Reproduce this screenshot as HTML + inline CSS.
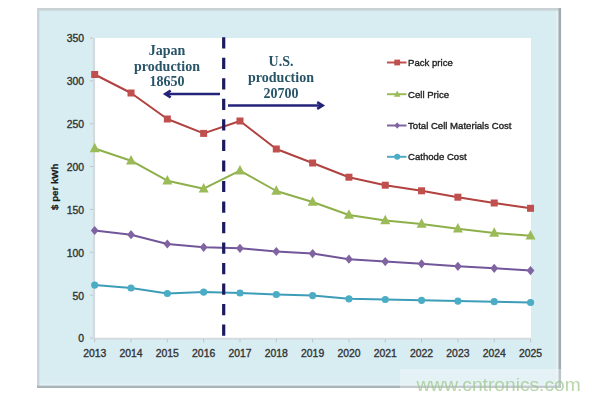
<!DOCTYPE html>
<html><head><meta charset="utf-8"><style>
html,body{margin:0;padding:0;background:#fff;width:600px;height:400px;overflow:hidden}
svg{display:block;filter:blur(0.35px)}
.ax{font-family:"Liberation Sans",sans-serif;font-size:10.4px;fill:#333;stroke:#333;stroke-width:0.35px}
.yt{font-family:"Liberation Sans",sans-serif;font-size:9.7px;font-weight:bold;fill:#1a1a1a;stroke:#1a1a1a;stroke-width:0.25px}
.an{font-family:"Liberation Serif",serif;font-size:14px;font-weight:bold;fill:#285468}
.lg{font-family:"Liberation Sans",sans-serif;font-size:9.6px;fill:#222;stroke:#222;stroke-width:0.35px}
.wm{font-family:"Liberation Sans",sans-serif;font-size:19.2px;fill:#9DC58B;fill-opacity:0.72}
</style></head><body>
<svg width="600" height="400" viewBox="0 0 600 400">
<rect x="37" y="8" width="524" height="380" fill="#D8EDF1"/>
<rect x="37" y="383.7" width="522" height="2" fill="#E3F1F5"/>
<rect x="556" y="9" width="2.5" height="377" fill="#E3F1F5"/>
<rect x="37" y="8" width="523" height="2.6" fill="#C8D2D4"/>
<rect x="37" y="8" width="2.4" height="379" fill="#C8D4D8"/>
<rect x="37" y="385.7" width="524" height="2.3" fill="#A8B4B8"/>
<rect x="558.5" y="8" width="2.6" height="380" fill="#A0ACB0"/>
<rect x="95" y="38" width="436" height="300" fill="#FFFFFF"/>
<line x1="94" y1="38" x2="94" y2="339.5" stroke="#D2DADD" stroke-width="2.2"/>
<line x1="93" y1="338.6" x2="531" y2="338.6" stroke="#D2DADD" stroke-width="1.9"/>
<line x1="90" y1="338.00" x2="93" y2="338.00" stroke="#BCC4C8" stroke-width="1"/>
<text x="84" y="342.40" text-anchor="end" class="ax">0</text>
<line x1="90" y1="295.14" x2="93" y2="295.14" stroke="#BCC4C8" stroke-width="1"/>
<text x="84" y="299.54" text-anchor="end" class="ax">50</text>
<line x1="90" y1="252.29" x2="93" y2="252.29" stroke="#BCC4C8" stroke-width="1"/>
<text x="84" y="256.69" text-anchor="end" class="ax">100</text>
<line x1="90" y1="209.43" x2="93" y2="209.43" stroke="#BCC4C8" stroke-width="1"/>
<text x="84" y="213.83" text-anchor="end" class="ax">150</text>
<line x1="90" y1="166.57" x2="93" y2="166.57" stroke="#BCC4C8" stroke-width="1"/>
<text x="84" y="170.97" text-anchor="end" class="ax">200</text>
<line x1="90" y1="123.71" x2="93" y2="123.71" stroke="#BCC4C8" stroke-width="1"/>
<text x="84" y="128.11" text-anchor="end" class="ax">250</text>
<line x1="90" y1="80.86" x2="93" y2="80.86" stroke="#BCC4C8" stroke-width="1"/>
<text x="84" y="85.26" text-anchor="end" class="ax">300</text>
<line x1="90" y1="38.00" x2="93" y2="38.00" stroke="#BCC4C8" stroke-width="1"/>
<text x="84" y="42.40" text-anchor="end" class="ax">350</text>
<line x1="94.70" y1="339" x2="94.70" y2="342.3" stroke="#BCC4C8" stroke-width="1"/>
<text x="94.70" y="357" text-anchor="middle" class="ax">2013</text>
<line x1="131.02" y1="339" x2="131.02" y2="342.3" stroke="#BCC4C8" stroke-width="1"/>
<text x="131.02" y="357" text-anchor="middle" class="ax">2014</text>
<line x1="167.34" y1="339" x2="167.34" y2="342.3" stroke="#BCC4C8" stroke-width="1"/>
<text x="167.34" y="357" text-anchor="middle" class="ax">2015</text>
<line x1="203.66" y1="339" x2="203.66" y2="342.3" stroke="#BCC4C8" stroke-width="1"/>
<text x="203.66" y="357" text-anchor="middle" class="ax">2016</text>
<line x1="239.98" y1="339" x2="239.98" y2="342.3" stroke="#BCC4C8" stroke-width="1"/>
<text x="239.98" y="357" text-anchor="middle" class="ax">2017</text>
<line x1="276.30" y1="339" x2="276.30" y2="342.3" stroke="#BCC4C8" stroke-width="1"/>
<text x="276.30" y="357" text-anchor="middle" class="ax">2018</text>
<line x1="312.62" y1="339" x2="312.62" y2="342.3" stroke="#BCC4C8" stroke-width="1"/>
<text x="312.62" y="357" text-anchor="middle" class="ax">2019</text>
<line x1="348.94" y1="339" x2="348.94" y2="342.3" stroke="#BCC4C8" stroke-width="1"/>
<text x="348.94" y="357" text-anchor="middle" class="ax">2020</text>
<line x1="385.26" y1="339" x2="385.26" y2="342.3" stroke="#BCC4C8" stroke-width="1"/>
<text x="385.26" y="357" text-anchor="middle" class="ax">2021</text>
<line x1="421.58" y1="339" x2="421.58" y2="342.3" stroke="#BCC4C8" stroke-width="1"/>
<text x="421.58" y="357" text-anchor="middle" class="ax">2022</text>
<line x1="457.90" y1="339" x2="457.90" y2="342.3" stroke="#BCC4C8" stroke-width="1"/>
<text x="457.90" y="357" text-anchor="middle" class="ax">2023</text>
<line x1="494.22" y1="339" x2="494.22" y2="342.3" stroke="#BCC4C8" stroke-width="1"/>
<text x="494.22" y="357" text-anchor="middle" class="ax">2024</text>
<line x1="530.54" y1="339" x2="530.54" y2="342.3" stroke="#BCC4C8" stroke-width="1"/>
<text x="530.54" y="357" text-anchor="middle" class="ax">2025</text>
<text transform="translate(58,186.8) rotate(-90)" text-anchor="middle" class="yt">$ per kWh</text>
<polyline points="94.70,74.50 131.02,93.00 167.34,119.00 203.66,133.40 239.98,121.00 276.30,149.00 312.62,163.00 348.94,177.20 385.26,185.20 421.58,190.80 457.90,197.20 494.22,203.00 530.54,208.30" fill="none" stroke="#B0423F" stroke-width="2" stroke-linejoin="round"/>
<rect x="91.20" y="71.00" width="7" height="7" fill="#C0504D"/>
<rect x="127.52" y="89.50" width="7" height="7" fill="#C0504D"/>
<rect x="163.84" y="115.50" width="7" height="7" fill="#C0504D"/>
<rect x="200.16" y="129.90" width="7" height="7" fill="#C0504D"/>
<rect x="236.48" y="117.50" width="7" height="7" fill="#C0504D"/>
<rect x="272.80" y="145.50" width="7" height="7" fill="#C0504D"/>
<rect x="309.12" y="159.50" width="7" height="7" fill="#C0504D"/>
<rect x="345.44" y="173.70" width="7" height="7" fill="#C0504D"/>
<rect x="381.76" y="181.70" width="7" height="7" fill="#C0504D"/>
<rect x="418.08" y="187.30" width="7" height="7" fill="#C0504D"/>
<rect x="454.40" y="193.70" width="7" height="7" fill="#C0504D"/>
<rect x="490.72" y="199.50" width="7" height="7" fill="#C0504D"/>
<rect x="527.04" y="204.80" width="7" height="7" fill="#C0504D"/>
<polyline points="94.70,148.50 131.02,160.70 167.34,180.70 203.66,188.70 239.98,170.60 276.30,191.00 312.62,202.00 348.94,215.00 385.26,220.40 421.58,224.00 457.90,228.80 494.22,233.00 530.54,235.80" fill="none" stroke="#8DB04A" stroke-width="2" stroke-linejoin="round"/>
<polygon points="94.70,142.80 99.70,152.30 89.70,152.30" fill="#9BBB59"/>
<polygon points="131.02,155.00 136.02,164.50 126.02,164.50" fill="#9BBB59"/>
<polygon points="167.34,175.00 172.34,184.50 162.34,184.50" fill="#9BBB59"/>
<polygon points="203.66,183.00 208.66,192.50 198.66,192.50" fill="#9BBB59"/>
<polygon points="239.98,164.90 244.98,174.40 234.98,174.40" fill="#9BBB59"/>
<polygon points="276.30,185.30 281.30,194.80 271.30,194.80" fill="#9BBB59"/>
<polygon points="312.62,196.30 317.62,205.80 307.62,205.80" fill="#9BBB59"/>
<polygon points="348.94,209.30 353.94,218.80 343.94,218.80" fill="#9BBB59"/>
<polygon points="385.26,214.70 390.26,224.20 380.26,224.20" fill="#9BBB59"/>
<polygon points="421.58,218.30 426.58,227.80 416.58,227.80" fill="#9BBB59"/>
<polygon points="457.90,223.10 462.90,232.60 452.90,232.60" fill="#9BBB59"/>
<polygon points="494.22,227.30 499.22,236.80 489.22,236.80" fill="#9BBB59"/>
<polygon points="530.54,230.10 535.54,239.60 525.54,239.60" fill="#9BBB59"/>
<polyline points="94.70,230.50 131.02,234.70 167.34,244.00 203.66,247.30 239.98,248.30 276.30,251.50 312.62,253.60 348.94,259.20 385.26,261.60 421.58,263.80 457.90,266.30 494.22,268.30 530.54,270.60" fill="none" stroke="#72569A" stroke-width="2" stroke-linejoin="round"/>
<polygon points="94.70,225.90 98.60,230.50 94.70,235.10 90.80,230.50" fill="#8064A2"/>
<polygon points="131.02,230.10 134.92,234.70 131.02,239.30 127.12,234.70" fill="#8064A2"/>
<polygon points="167.34,239.40 171.24,244.00 167.34,248.60 163.44,244.00" fill="#8064A2"/>
<polygon points="203.66,242.70 207.56,247.30 203.66,251.90 199.76,247.30" fill="#8064A2"/>
<polygon points="239.98,243.70 243.88,248.30 239.98,252.90 236.08,248.30" fill="#8064A2"/>
<polygon points="276.30,246.90 280.20,251.50 276.30,256.10 272.40,251.50" fill="#8064A2"/>
<polygon points="312.62,249.00 316.52,253.60 312.62,258.20 308.72,253.60" fill="#8064A2"/>
<polygon points="348.94,254.60 352.84,259.20 348.94,263.80 345.04,259.20" fill="#8064A2"/>
<polygon points="385.26,257.00 389.16,261.60 385.26,266.20 381.36,261.60" fill="#8064A2"/>
<polygon points="421.58,259.20 425.48,263.80 421.58,268.40 417.68,263.80" fill="#8064A2"/>
<polygon points="457.90,261.70 461.80,266.30 457.90,270.90 454.00,266.30" fill="#8064A2"/>
<polygon points="494.22,263.70 498.12,268.30 494.22,272.90 490.32,268.30" fill="#8064A2"/>
<polygon points="530.54,266.00 534.44,270.60 530.54,275.20 526.64,270.60" fill="#8064A2"/>
<polyline points="94.70,285.10 131.02,288.00 167.34,293.50 203.66,292.10 239.98,293.00 276.30,294.50 312.62,295.60 348.94,298.80 385.26,299.50 421.58,300.30 457.90,301.10 494.22,301.70 530.54,302.50" fill="none" stroke="#3D9DB8" stroke-width="2" stroke-linejoin="round"/>
<circle cx="94.70" cy="285.10" r="3.6" fill="#4BACC6"/>
<circle cx="131.02" cy="288.00" r="3.6" fill="#4BACC6"/>
<circle cx="167.34" cy="293.50" r="3.6" fill="#4BACC6"/>
<circle cx="203.66" cy="292.10" r="3.6" fill="#4BACC6"/>
<circle cx="239.98" cy="293.00" r="3.6" fill="#4BACC6"/>
<circle cx="276.30" cy="294.50" r="3.6" fill="#4BACC6"/>
<circle cx="312.62" cy="295.60" r="3.6" fill="#4BACC6"/>
<circle cx="348.94" cy="298.80" r="3.6" fill="#4BACC6"/>
<circle cx="385.26" cy="299.50" r="3.6" fill="#4BACC6"/>
<circle cx="421.58" cy="300.30" r="3.6" fill="#4BACC6"/>
<circle cx="457.90" cy="301.10" r="3.6" fill="#4BACC6"/>
<circle cx="494.22" cy="301.70" r="3.6" fill="#4BACC6"/>
<circle cx="530.54" cy="302.50" r="3.6" fill="#4BACC6"/>
<line x1="223.7" y1="37.2" x2="223.7" y2="337" stroke="#1A1A5E" stroke-width="3.2" stroke-dasharray="11.2,9.33"/>
<line x1="167" y1="94" x2="220" y2="94" stroke="#23237A" stroke-width="2.6"/>
<polyline points="170.7,90.7 165.3,94 170.7,97.3" fill="none" stroke="#23237A" stroke-width="2.6" stroke-linejoin="miter"/>
<line x1="228" y1="105.5" x2="322" y2="105.5" stroke="#23237A" stroke-width="2.6"/>
<polyline points="317.2,102.2 322.6,105.5 317.2,108.8" fill="none" stroke="#23237A" stroke-width="2.6"/>
<text x="167" y="54.8" text-anchor="middle" class="an">Japan</text>
<text x="167" y="70.8" text-anchor="middle" class="an">production</text>
<text x="167" y="86.3" text-anchor="middle" class="an">18650</text>
<text x="281" y="66.2" text-anchor="middle" class="an">U.S.</text>
<text x="281" y="82" text-anchor="middle" class="an">production</text>
<text x="281" y="97.6" text-anchor="middle" class="an">20700</text>
<line x1="387" y1="62.5" x2="406.5" y2="62.5" stroke="#C0504D" stroke-width="2"/>
<rect x="394.30" y="59.60" width="5.8" height="5.8" fill="#C0504D"/>
<text x="408" y="65.80" class="lg">Pack price</text>
<line x1="387" y1="94.2" x2="406.5" y2="94.2" stroke="#9BBB59" stroke-width="2"/>
<polygon points="397.20,90.50 400.45,96.67 393.95,96.67" fill="#9BBB59"/>
<text x="408" y="97.50" class="lg">Cell Price</text>
<line x1="387" y1="125.5" x2="406.5" y2="125.5" stroke="#8064A2" stroke-width="2"/>
<polygon points="397.20,122.25 399.95,125.50 397.20,128.75 394.45,125.50" fill="#8064A2"/>
<text x="408" y="128.80" class="lg">Total Cell Materials Cost</text>
<line x1="387" y1="156.8" x2="406.5" y2="156.8" stroke="#4BACC6" stroke-width="2"/>
<circle cx="397.20" cy="156.80" r="3" fill="#4BACC6"/>
<text x="408" y="160.10" class="lg">Cathode Cost</text>
<rect x="400" y="369" width="200" height="31" fill="#FFFFFF" fill-opacity="0.3"/>
<text x="416.5" y="390.5" class="wm">www.cntronics.com</text>
</svg>
</body></html>
